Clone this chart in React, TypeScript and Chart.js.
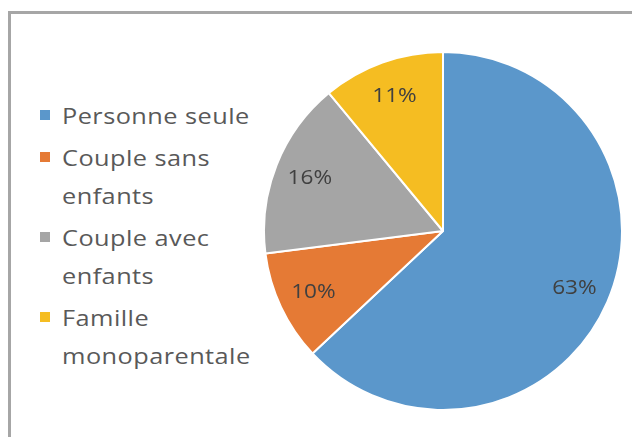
import React, { useEffect, useRef } from "react";
import { Chart, registerables } from "chart.js";

Chart.register(...registerables);

const categories = ["Personne seule", "Couple sans enfants", "Couple avec enfants", "Famille monoparentale"];
const legendLines = [["Personne seule"], ["Couple sans", "enfants"], ["Couple avec", "enfants"], ["Famille", "monoparentale"]];
const values = [63, 10, 16, 11];
const colors = ["#5B97CB", "#E57A35", "#A5A5A5", "#F5BD22"];

const labelPlugin = {
  id: "pctLabels",
  afterDatasetsDraw(chart: any) {
    const ctx = chart.ctx;
    const meta = chart.getDatasetMeta(0);
    const total = values.reduce((a, b) => a + b, 0);
    ctx.fillStyle = "#404040";
    ctx.textAlign = "center";
    ctx.textBaseline = "middle";
    meta.data.forEach((arc: any, i: number) => {
      const { x, y, startAngle, endAngle, outerRadius } = arc.getProps(["x", "y", "startAngle", "endAngle", "outerRadius"], true);
      const mid = (startAngle + endAngle) / 2;
      const r = outerRadius * 0.8;
      const pct = Math.round((values[i] / total) * 100) + "%";
      ctx.save();
      ctx.font = "20px 'Open Sans', sans-serif";
      ctx.translate(x + Math.cos(mid) * r, y + Math.sin(mid) * r);
      ctx.scale(1.13, 1);
      ctx.fillText(pct, 0, 0);
      ctx.restore();
    });
  },
};

export default function App() {
  const ref = useRef<HTMLCanvasElement>(null);
  useEffect(() => {
    const chart = new Chart(ref.current!, {
      type: "pie",
      data: {
        labels: categories,
        datasets: [
          {
            data: values,
            backgroundColor: colors,
            borderColor: "#ffffff",
            borderWidth: 2,
          },
        ],
      },
      options: {
        animation: false,
        responsive: false,
        events: [],
        layout: { padding: 0 },
        plugins: { legend: { display: false }, tooltip: { enabled: false } },
      },
      plugins: [labelPlugin],
    });
    return () => chart.destroy();
  }, []);

  return (
    <div style={{ position: "fixed", left: 0, top: 0, width: 632, height: 437, background: "#fff", overflow: "hidden" }}>
      <div
        style={{
          position: "absolute",
          left: 8,
          top: 11,
          width: 700,
          height: 500,
          borderLeft: "3px solid #A6A6A6",
          borderTop: "3px solid #A6A6A6",
        }}
      />
      <canvas ref={ref} width={360} height={360} style={{ position: "absolute", left: 263, top: 51, width: 360, height: 360 }} />
      <div
        style={{
          position: "absolute",
          left: 40,
          top: 96,
          fontFamily: "'Open Sans', sans-serif",
          fontSize: 22,
          letterSpacing: "0.4px",
          color: "#595959",
        }}
      >
        {legendLines.map((lines, i) => (
          <div key={i} style={{ position: "relative", marginBottom: 4 }}>
            <span
              style={{
                position: "absolute",
                left: 0,
                top: 14,
                width: 10,
                height: 10,
                background: colors[i],
              }}
            />
            <div style={{ marginLeft: 22, lineHeight: "38px" }}>
              {lines.map((l, j) => (
                <div key={j} style={{ transform: "scaleX(1.15)", transformOrigin: "left center", whiteSpace: "nowrap" }}>
                  {l}
                </div>
              ))}
            </div>
          </div>
        ))}
      </div>
    </div>
  );
}
